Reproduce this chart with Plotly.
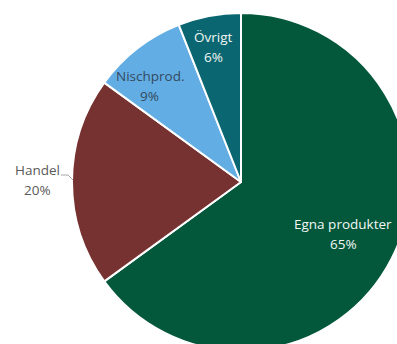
import plotly.graph_objects as go

labels = ["Egna produkter", "Handel", "Nischprod.", "Övrigt"]
values = [65, 20, 9, 6]
colors = ["#03573B", "#763231", "#62AEE4", "#0A6670"]
text_colors = ["#F2F7F4", "#595959", "#34495E", "#F2F7F4"]
# label centre offsets from pie centre, in units of radius (x right, y down)
label_offsets = [(0.604, 0.305), (-1.207, -0.009), (-0.541, -0.571), (-0.163, -0.796)]

W, H = 420, 360
cx, cy, r = 241, 182, 169
half_gap = 10
font_family = "Open Sans"
font_size = 13.5

fig = go.Figure(go.Pie(
    labels=labels,
    values=values,
    sort=False,
    direction="clockwise",
    rotation=0,
    marker=dict(colors=colors, line=dict(color="white", width=2)),
    textinfo="none",
    showlegend=False,
    hoverinfo="skip",
    domain=dict(x=[(cx - r) / W, (cx + r) / W], y=[(H - (cy + r)) / H, (H - (cy - r)) / H]),
))

total = sum(values)


def px(x):
    return x / W


def py(y):
    return (H - y) / H


for lab, val, col, (ox, oy) in zip(labels, values, text_colors, label_offsets):
    x = cx + ox * r
    y = cy + oy * r
    pct = f"{round(100 * val / total)}%"
    for txt, yy in ((lab, y - half_gap), (pct, y + half_gap)):
        fig.add_annotation(
            x=px(x), y=py(yy), xref="paper", yref="paper",
            text=txt, showarrow=False, xanchor="center", yanchor="middle",
            font=dict(family=font_family, size=font_size, color=col),
        )

# leader line for the outside label (Handel)
lx0 = cx - r - 11
ly0 = cy - 7
path = f"M {px(lx0)},{py(ly0)} L {px(lx0 + 7)},{py(ly0)} L {px(cx - r + 1)},{py(cy - 2)}"
fig.add_shape(type="path", path=path, xref="paper", yref="paper",
              line=dict(color="#A6A6A6", width=1))

fig.update_layout(
    width=W, height=H,
    margin=dict(l=0, r=0, t=0, b=0),
    paper_bgcolor="white",
    plot_bgcolor="white",
)

fig.write_html("out.html", post_script="document.body.style.margin='0';document.body.style.overflow='hidden';")
